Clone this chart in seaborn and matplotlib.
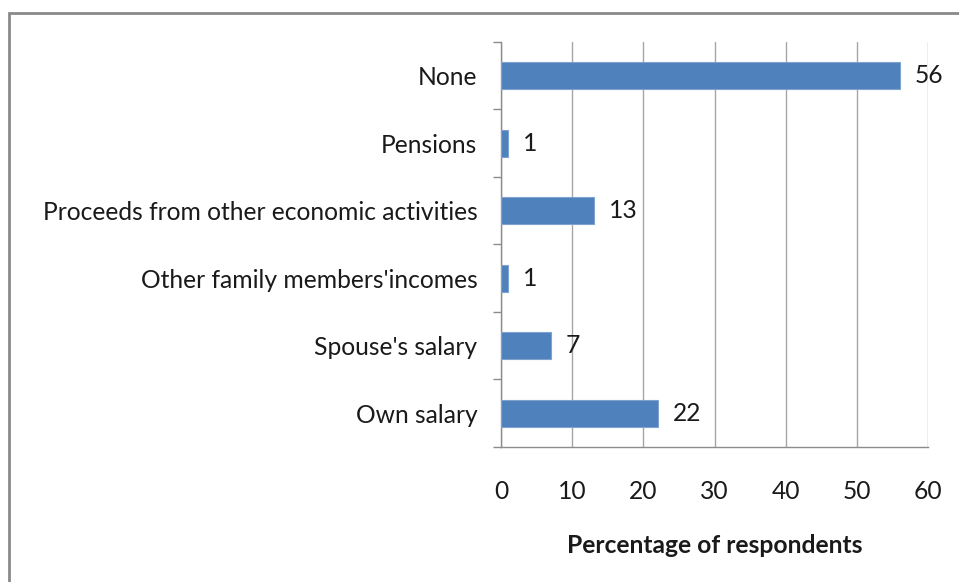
import matplotlib
matplotlib.use("Agg")
import matplotlib.pyplot as plt
from matplotlib.patches import Rectangle
from matplotlib.ticker import FixedLocator
import seaborn as sns
import pandas as pd

categories = [
    "None",
    "Pensions",
    "Proceeds from other economic activities",
    "Other family members'incomes",
    "Spouse's salary",
    "Own salary",
]
percentages = [56, 1, 13, 1, 7, 22]
x_ticks = [0, 10, 20, 30, 40, 50, 60]
x_label = "Percentage of respondents"

df = pd.DataFrame({"source": categories, "pct": percentages})

sns.set_theme(style="white")
plt.rcParams["font.family"] = ["Lato", "DejaVu Sans"]

fig = plt.figure(figsize=(9.59, 5.82), dpi=100)
ax = fig.add_axes([0.5224, 0.232, 0.4453, 0.696])

FS = 17.7
bar_color = "#4F81BD"
sns.barplot(data=df, x="pct", y="source", order=categories, orient="h",
            color=bar_color, width=0.4, saturation=1, ax=ax,
            edgecolor="#7EA3D0", linewidth=0.8, zorder=3)

ax.set_xlim(0, 60)
ax.set_ylim(len(categories) - 0.5, -0.5)
ax.set_xticks(x_ticks)
ax.set_xticklabels([str(t) for t in x_ticks])

# vertical gridlines
ax.grid(axis="x", color="#A6A6A6", linewidth=1.0, zorder=0)
ax.grid(axis="y", visible=False)

for side in ["top", "right"]:
    ax.spines[side].set_visible(False)
for side in ["left", "bottom"]:
    ax.spines[side].set_visible(True)
    ax.spines[side].set_color("#8C8C8C")
    ax.spines[side].set_linewidth(1.0)

ax.tick_params(axis="x", which="major", direction="out", length=6, width=1,
               color="#8C8C8C", pad=18, labelsize=FS, labelcolor="#1a1a1a")
ax.tick_params(axis="y", which="major", length=0, pad=17,
               labelsize=FS, labelcolor="#1a1a1a")
# category boundary ticks on the value axis
ax.yaxis.set_minor_locator(FixedLocator([i - 0.5 for i in range(len(categories) + 1)]))
ax.tick_params(axis="y", which="minor", direction="out", length=6, width=1,
               color="#8C8C8C", left=True)

ax.set_ylabel("")
ax.set_xlabel(x_label, fontsize=FS, fontweight="bold", labelpad=22,
              color="#1a1a1a")

for container in ax.containers:
    ax.bar_label(container, labels=[str(v) for v in percentages],
                 padding=11, fontsize=FS, color="#1a1a1a")

# outer chart frame
fig.patches.append(Rectangle((9 / 959, -0.01), 1.0, 1 - 13 / 582 + 0.01,
                             transform=fig.transFigure, fill=False,
                             edgecolor="#8A8A8A", linewidth=2.0, zorder=0))

fig.savefig("out.png", dpi=100, facecolor="white")
